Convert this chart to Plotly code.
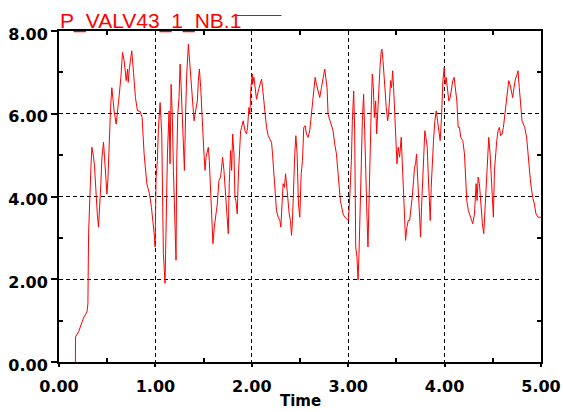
import plotly.graph_objects as go

series_name = "P_VALV43_1_NB.1"
x_title = "Time"

time = [
    0.170, 0.172, 0.203, 0.238, 0.255, 0.290, 0.300, 0.307, 0.317, 0.331,
    0.341, 0.359, 0.369, 0.383, 0.397, 0.410, 0.421, 0.434, 0.445, 0.462,
    0.472, 0.483, 0.497, 0.507, 0.521, 0.535, 0.548, 0.559, 0.572, 0.593,
    0.607, 0.624, 0.642, 0.659, 0.676, 0.697, 0.711, 0.718, 0.731, 0.755,
    0.773, 0.793, 0.814, 0.842, 0.862, 0.883, 0.911, 0.938, 0.959, 0.980,
    0.990, 0.997, 1.007, 1.021, 1.031, 1.049, 1.066, 1.076, 1.083, 1.100,
    1.111, 1.125, 1.142, 1.152, 1.163, 1.176, 1.187, 1.204, 1.214, 1.221,
    1.232, 1.245, 1.256, 1.266, 1.280, 1.290, 1.301, 1.314, 1.325, 1.342,
    1.352, 1.366, 1.377, 1.387, 1.401, 1.411, 1.421, 1.435, 1.446, 1.456,
    1.470, 1.480, 1.490, 1.504, 1.515, 1.525, 1.539, 1.549, 1.559, 1.573,
    1.587, 1.597, 1.611, 1.625, 1.642, 1.659, 1.677, 1.687, 1.697, 1.711,
    1.722, 1.732, 1.746, 1.756, 1.766, 1.780, 1.791, 1.801, 1.815, 1.825,
    1.835, 1.849, 1.860, 1.870, 1.884, 1.894, 1.911, 1.929, 1.946, 1.956,
    1.970, 1.980, 1.991, 2.005, 2.008, 2.022, 2.032, 2.049, 2.067, 2.084,
    2.101, 2.111, 2.125, 2.139, 2.153, 2.170, 2.187, 2.205, 2.215, 2.229,
    2.243, 2.256, 2.274, 2.291, 2.301, 2.315, 2.325, 2.339, 2.350, 2.360,
    2.370, 2.388, 2.401, 2.412, 2.422, 2.432, 2.446, 2.457, 2.470, 2.484,
    2.498, 2.512, 2.526, 2.539, 2.553, 2.567, 2.584, 2.601, 2.615, 2.629,
    2.643, 2.657, 2.671, 2.688, 2.705, 2.722, 2.740, 2.757, 2.767, 2.781,
    2.791, 2.809, 2.826, 2.843, 2.860, 2.878, 2.895, 2.905, 2.919, 2.933,
    2.947, 2.964, 2.988, 3.002, 3.016, 3.033, 3.043, 3.057, 3.067, 3.078,
    3.091, 3.102, 3.112, 3.126, 3.136, 3.147, 3.160, 3.171, 3.181, 3.195,
    3.205, 3.216, 3.229, 3.240, 3.250, 3.261, 3.271, 3.285, 3.295, 3.309,
    3.319, 3.330, 3.343, 3.350, 3.361, 3.371, 3.385, 3.395, 3.409, 3.419,
    3.430, 3.440, 3.450, 3.461, 3.471, 3.481, 3.492, 3.506, 3.519, 3.533,
    3.550, 3.561, 3.575, 3.585, 3.595, 3.609, 3.623, 3.637, 3.650, 3.664,
    3.678, 3.688, 3.699, 3.709, 3.720, 3.730, 3.740, 3.751, 3.761, 3.771,
    3.782, 3.795, 3.806, 3.820, 3.830, 3.840, 3.851, 3.861, 3.871, 3.885,
    3.899, 3.913, 3.927, 3.940, 3.954, 3.968, 3.982, 3.996, 4.006, 4.016,
    4.030, 4.044, 4.058, 4.072, 4.085, 4.099, 4.113, 4.127, 4.141, 4.154,
    4.168, 4.189, 4.206, 4.216, 4.230, 4.247, 4.258, 4.275, 4.292, 4.310,
    4.327, 4.337, 4.348, 4.361, 4.372, 4.382, 4.392, 4.406, 4.417, 4.427,
    4.437, 4.448, 4.458, 4.472, 4.482, 4.493, 4.506, 4.517, 4.527, 4.541,
    4.555, 4.568, 4.582, 4.596, 4.610, 4.624, 4.637, 4.651, 4.665, 4.679,
    4.693, 4.706, 4.720, 4.734, 4.748, 4.762, 4.775, 4.789, 4.803, 4.817,
    4.831, 4.851, 4.865, 4.879, 4.893, 4.914, 4.931, 4.948, 4.969, 5.000,
]

pressure = [
    0.00, 0.61, 0.73, 0.97, 1.07, 1.21, 1.41, 3.10, 3.94, 4.70,
    5.19, 4.95, 4.71, 3.98, 3.58, 3.26, 3.66, 4.30, 4.94, 5.31,
    4.95, 4.55, 4.06, 4.38, 5.35, 6.15, 6.63, 6.31, 6.07, 5.75,
    6.15, 6.43, 6.88, 7.48, 7.28, 6.80, 7.08, 6.76, 7.12, 7.52,
    7.00, 6.39, 6.07, 6.06, 5.91, 5.03, 4.31, 4.07, 3.74, 3.35,
    3.03, 2.78, 4.47, 4.87, 5.63, 6.27, 5.51, 3.74, 2.62, 1.90,
    3.66, 5.03, 6.07, 4.79, 6.71, 5.91, 4.63, 3.26, 2.46, 4.79,
    5.99, 6.39, 7.20, 6.71, 5.83, 5.11, 4.63, 6.07, 6.96, 7.68,
    7.36, 6.88, 6.39, 6.31, 5.83, 5.99, 6.15, 6.31, 6.80, 7.08,
    6.63, 5.99, 5.67, 5.03, 4.63, 4.95, 5.11, 5.19, 4.87, 4.06,
    3.58, 2.86, 3.26, 3.58, 3.82, 4.39, 4.47, 4.71, 4.95, 4.63,
    4.22, 3.98, 3.42, 3.10, 4.31, 5.11, 4.63, 5.51, 5.03, 3.98,
    3.90, 3.58, 4.47, 5.03, 5.59, 5.67, 5.83, 5.59, 5.51, 5.67,
    6.15, 5.99, 6.63, 6.96, 6.71, 6.88, 6.63, 6.35, 6.55, 6.71,
    6.84, 6.63, 6.31, 5.99, 5.67, 5.47, 5.39, 5.31, 5.03, 4.47,
    3.98, 3.66, 3.50, 3.42, 3.26, 3.74, 4.31, 4.22, 4.55, 4.31,
    3.98, 3.58, 3.42, 3.06, 3.42, 4.22, 5.03, 5.47, 5.03, 3.82,
    3.50, 4.55, 4.87, 5.67, 5.71, 5.51, 5.43, 5.59, 5.91, 6.31,
    6.63, 6.88, 6.71, 6.55, 6.39, 6.63, 6.84, 7.08, 6.88, 6.63,
    5.99, 5.83, 5.71, 5.59, 5.27, 5.03, 4.55, 4.22, 3.90, 3.74,
    3.58, 3.50, 3.46, 3.42, 3.98, 4.87, 5.83, 6.55, 5.59, 2.78,
    2.54, 1.98, 2.62, 3.66, 4.79, 5.83, 6.47, 5.59, 4.47, 3.50,
    2.78, 4.06, 4.87, 6.23, 6.96, 6.63, 5.91, 6.31, 5.51, 6.23,
    6.47, 7.12, 7.52, 7.56, 7.28, 6.88, 6.39, 6.15, 5.83, 5.99,
    6.39, 6.80, 6.63, 7.04, 6.63, 6.07, 5.35, 4.79, 5.19, 4.95,
    5.43, 4.87, 4.06, 3.34, 2.94, 3.26, 3.42, 3.42, 3.66, 3.98,
    4.39, 4.71, 4.79, 5.03, 4.47, 3.98, 3.42, 3.02, 3.74, 4.31,
    4.79, 5.59, 5.43, 5.19, 4.55, 3.82, 3.42, 4.22, 4.79, 5.35,
    5.83, 6.07, 5.83, 5.59, 5.35, 5.91, 6.80, 7.12, 6.71, 6.88,
    6.63, 6.31, 6.39, 6.63, 6.80, 6.88, 6.55, 6.31, 5.67, 5.67,
    5.43, 5.35, 5.03, 4.55, 3.90, 3.66, 3.58, 3.42, 3.34, 3.58,
    4.31, 3.90, 4.47, 4.31, 3.90, 3.58, 3.34, 3.10, 3.58, 4.14,
    4.31, 5.03, 5.43, 5.03, 4.47, 3.90, 3.50, 4.63, 5.03, 5.35,
    5.59, 5.67, 5.47, 5.51, 5.67, 5.99, 6.31, 6.63, 6.80, 6.71,
    6.55, 6.39, 6.63, 6.84, 6.92, 7.04, 6.63, 6.31, 5.83, 5.75,
    5.67, 5.43, 5.03, 4.71, 4.31, 3.98, 3.82, 3.58, 3.50, 3.50,
]

x_major = [0, 1, 2, 3, 4, 5]
x_minor = [0.5, 1.5, 2.5, 3.5, 4.5]
y_major = [0, 2, 4, 6, 8]
y_minor = [1, 3, 5, 7]

tick_font = dict(family="DejaVu Sans", size=16, color="black", weight="bold")

fig = go.Figure()
fig.add_trace(go.Scatter(x=time, y=pressure, mode="lines",
                         line=dict(color="#ff0000", width=1),
                         showlegend=False, hoverinfo="skip"))
# carrier trace for the mirrored (top/right) tick axes
fig.add_trace(go.Scatter(x=time, y=pressure, mode="lines", xaxis="x2", yaxis="y2",
                         line=dict(color="rgba(0,0,0,0)", width=0),
                         showlegend=False, hoverinfo="skip"))

fig.update_layout(
    width=563, height=412,
    margin=dict(l=59, r=22, t=31, b=50, autoexpand=False),
    paper_bgcolor="white", plot_bgcolor="white",
    xaxis=dict(
        range=[0, 5], tickvals=x_major, ticktext=[f"{v:.2f}" for v in x_major],
        ticks="outside", ticklen=3, tickwidth=2, tickcolor="black",
        ticklabelstandoff=6,
        tickfont=tick_font, automargin=False,
        showline=True, linecolor="black", linewidth=2, mirror=True,
        showgrid=True, gridcolor="black", gridwidth=1, griddash="4px,3px",
        zeroline=False,
        minor=dict(tickvals=x_minor, ticks="inside", ticklen=4, tickwidth=2,
                   tickcolor="black", showgrid=False),
    ),
    yaxis=dict(
        range=[0, 8], tickvals=y_major, ticktext=[f"{v:.2f}" for v in y_major],
        ticks="outside", ticklen=6, tickwidth=2, tickcolor="black",
        ticklabelshift=3,
        tickfont=tick_font, automargin=False,
        showline=True, linecolor="black", linewidth=2, mirror=True,
        showgrid=True, gridcolor="black", gridwidth=1, griddash="4px,3px",
        zeroline=False,
        minor=dict(tickvals=y_minor, ticks="inside", ticklen=4, tickwidth=2,
                   tickcolor="black", showgrid=False),
    ),
    xaxis2=dict(
        overlaying="x", side="top", range=[0, 5], tickvals=x_minor,
        ticks="inside", ticklen=4, tickwidth=2, tickcolor="black", automargin=False,
        showticklabels=False, showgrid=False, zeroline=False, showline=False,
    ),
    yaxis2=dict(
        overlaying="y", side="right", range=[0, 8], tickvals=y_minor,
        ticks="inside", ticklen=4, tickwidth=2, tickcolor="black", automargin=False,
        showticklabels=False, showgrid=False, zeroline=False, showline=False,
    ),
    annotations=[
        dict(text=series_name, xref="paper", yref="paper", x=0, y=1,
             xanchor="left", yanchor="bottom", showarrow=False,
             font=dict(family="Liberation Sans", size=21, color="#ff0000"),
             borderpad=0, yshift=-3),
        dict(text=x_title, xref="paper", yref="paper", x=0.5, y=0,
             xanchor="center", yanchor="top", showarrow=False,
             font=dict(family="DejaVu Sans", size=15, color="black", weight="bold"),
             borderpad=0, yshift=-29),
    ],
    shapes=[dict(type="line", xref="paper", yref="paper",
                 x0=0.3685, x1=0.4617, y0=1.0468, y1=1.0468,
                 line=dict(color="#ff0000", width=1))],
)

fig.write_html("out.html", config={"displayModeBar": False},
               post_script="document.body.style.margin='0';document.body.style.overflow='hidden';")
